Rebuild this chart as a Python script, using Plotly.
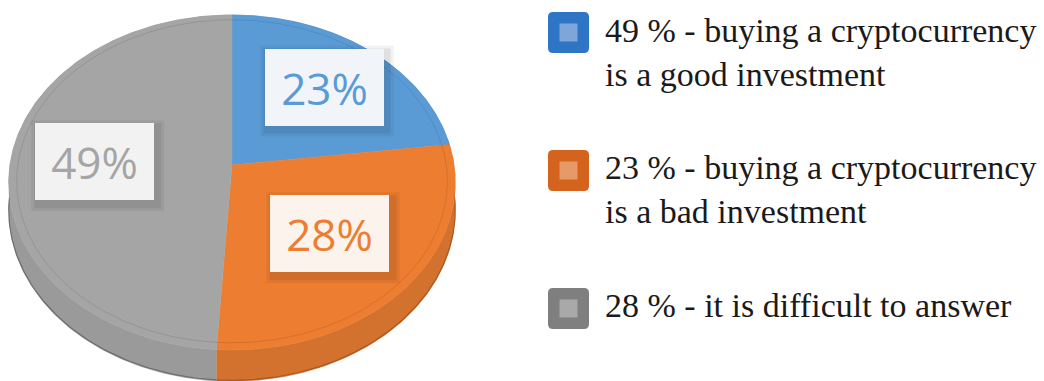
import numpy as np
import plotly.graph_objects as go

# Survey shares, in the order the slices run clockwise from 12 o'clock
values = [23, 28, 49]
pie_labels = ["23%", "28%", "49%"]
slice_colors = ["#5b9bd5", "#ed7d31", "#a5a5a5"]
side_colors = ["#4a86c0", "#d2722e", "#9a9a9a"]
side_edge = ["#3a6c9c", "#a85a22", "#6e6e6e"]
label_fill = ["#f1f5fa", "#fcf3ed", "#f2f2f2"]
label_radius = [0.66, 0.58, 0.62]

legend_lines = [
    "49 % - buying a cryptocurrency<br>is a good investment",
    "23 % - buying a cryptocurrency<br>is a bad investment",
    "28 % - it is difficult to answer",
]
legend_colors = ["#2e75c5", "#d4631d", "#7f7f7f"]
legend_inner = ["#7ea6d8", "#e59a68", "#a9a9a9"]

W, H = 1044, 381

# Tilted disc seen in perspective (pixel-based axes)
CX, CY = 232.0, 165.0      # vertex of the slices
A, B = 222.0, 165.7        # horizontal / vertical radii
K = 0.1045                 # perspective foreshortening
DEPTH = 28.0               # thickness of the disc


def project(r, theta):
    u = r * np.sin(theta)
    v = r * np.cos(theta)
    w = 1.0 + K * v
    return CX + A * u / w, CY - B * v / w, w


fig = go.Figure()

fractions = np.array(values, dtype=float) / sum(values)
edges = np.concatenate([[0.0], np.cumsum(fractions)]) * 2 * np.pi

# side walls first, so the top faces sit over them
for i in range(len(values)):
    th = np.linspace(edges[i], edges[i + 1], 200)
    x, y, w = project(1.0, th)
    yb = y + DEPTH / w
    fig.add_trace(go.Scatter(
        x=np.concatenate([x, x[::-1]]), y=np.concatenate([y, yb[::-1]]),
        fill="toself", fillcolor=side_colors[i], mode="lines",
        line=dict(color=side_colors[i], width=0.5), hoverinfo="skip"))
    # darker outer rim of the wall
    fig.add_trace(go.Scatter(x=x, y=yb - 1, mode="lines",
                             line=dict(color=side_edge[i], width=1.2),
                             hoverinfo="skip"))

for i in range(len(values)):
    th = np.linspace(edges[i], edges[i + 1], 200)
    x, y, _ = project(1.0, th)
    fig.add_trace(go.Scatter(
        x=np.concatenate([[CX], x, [CX]]), y=np.concatenate([[CY], y, [CY]]),
        fill="toself", fillcolor=slice_colors[i], mode="lines",
        line=dict(color=slice_colors[i], width=0.5), hoverinfo="skip"))

# faint bevel line just inside the rim
th = np.linspace(0, 2 * np.pi, 400)
bx, by, _ = project(0.965, th)
fig.add_trace(go.Scatter(x=bx, y=by, mode="lines",
                         line=dict(color="rgba(0,0,0,0.10)", width=1),
                         hoverinfo="skip"))

shapes = []
annotations = []

# value labels in boxes
BW, BH = 119, 77
for i, lab in enumerate(pie_labels):
    mid = 0.5 * (edges[i] + edges[i + 1])
    lx, ly, _ = project(label_radius[i], mid)
    for grow, alpha in [(7, 0.05), (4, 0.07)]:
        shapes.append(dict(type="rect", xref="x", yref="y",
                           x0=lx - BW / 2 - grow + 3, x1=lx + BW / 2 + grow + 3,
                           y0=ly - BH / 2 - grow + 4, y1=ly + BH / 2 + grow + 4,
                           fillcolor=f"rgba(0,0,0,{alpha})", line=dict(width=0),
                           layer="above"))
    annotations.append(dict(
        x=lx, y=ly, xref="x", yref="y", text=lab, showarrow=False,
        font=dict(family="Open Sans", size=44, color=slice_colors[i]),
        bgcolor=label_fill[i], width=BW - 6, height=BH - 6, borderpad=3,
        borderwidth=0, xanchor="center", yanchor="middle"))


def rounded_square(x0, y0, s, r):
    x1, y1 = x0 + s, y0 + s
    return (f"M {x0 + r},{y0} L {x1 - r},{y0} Q {x1},{y0} {x1},{y0 + r} "
            f"L {x1},{y1 - r} Q {x1},{y1} {x1 - r},{y1} L {x0 + r},{y1} "
            f"Q {x0},{y1} {x0},{y1 - r} L {x0},{y0 + r} Q {x0},{y0} {x0 + r},{y0} Z")


# legend
sq_x, sq_size = 548, 41
sq_tops = [12, 150, 288]
text_centers = [52, 189, 305]
for i, line in enumerate(legend_lines):
    top = sq_tops[i]
    shapes.append(dict(type="path", xref="x", yref="y",
                       path=rounded_square(sq_x, top, sq_size, 5),
                       fillcolor=legend_colors[i], line=dict(width=0)))
    inner = 18
    ix = sq_x + (sq_size - inner) / 2
    iy = top + (sq_size - inner) / 2
    shapes.append(dict(type="rect", xref="x", yref="y",
                       x0=ix, x1=ix + inner, y0=iy, y1=iy + inner,
                       fillcolor=legend_inner[i], line=dict(width=0)))
    annotations.append(dict(
        x=603, y=text_centers[i], xref="x", yref="y", text=line,
        showarrow=False, align="left", xanchor="left", yanchor="middle",
        font=dict(family="Liberation Serif", size=34, color="#1a1a1a")))

fig.update_layout(
    width=W, height=H, margin=dict(l=0, r=0, t=0, b=0),
    paper_bgcolor="white", plot_bgcolor="white", showlegend=False,
    xaxis=dict(range=[0, W], visible=False, fixedrange=True),
    yaxis=dict(range=[H, 0], visible=False, fixedrange=True),
    shapes=shapes, annotations=annotations,
)

fig.write_html("out.html")
